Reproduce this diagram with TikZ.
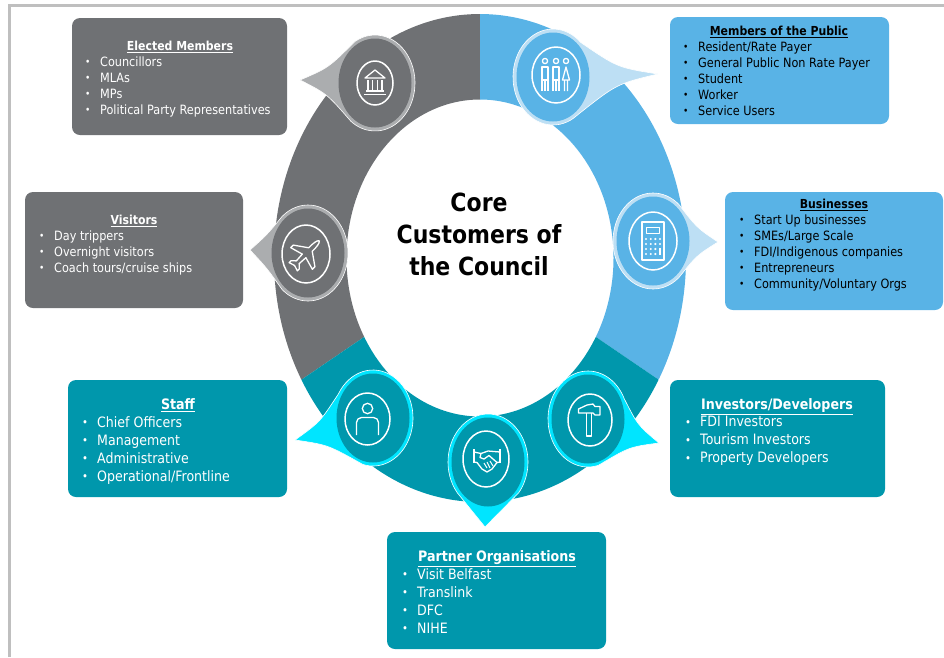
\documentclass[tikz,border=0pt]{standalone}
\usepackage{fontspec}
\setmainfont[FakeStretch=0.88]{DejaVu Sans}
\usetikzlibrary{positioning,calc}

\definecolor{custgrey}{HTML}{6F7174}
\definecolor{custblue}{HTML}{59B3E6}
\definecolor{custteal}{HTML}{0097AC}
\definecolor{tailgrey}{HTML}{ABADAF}
\definecolor{tailblue}{HTML}{BDDFF4}
\definecolor{tailteal}{HTML}{00E5FF}

% pin: centre x, y, tip x, y, join angles, tail colour, body colour, bend
\newcommand{\custpin}[9]{
  \path (#1,#2) coordinate (pc) (#3,#4) coordinate (pt) ($(pc)!0.6!(pt)$) coordinate (pa)
    ($(pc)+(#5:40 and 48)$) coordinate (pj) ($(pc)+(#6:40 and 48)$) coordinate (pk);
  \fill[#7, draw=white, line width=0.6pt]
    (pj) .. controls ($($(pj)!0.5!(pt)$)!#9!(pa)$) .. (pt)
    .. controls ($($(pk)!0.5!(pt)$)!#9!(pa)$) .. (pk)
    arc[start angle=#6, delta angle={360-(#6-#5)}, x radius=40, y radius=48] -- cycle;
  \fill[#8] (pc) ellipse[x radius=36.5, y radius=44.5];
}
\newcommand{\itm}[1]{\makebox[15pt][l]{\raisebox{0.5pt}{\scalebox{0.8}{\textbullet}}}#1}

\begin{document}
\begin{tikzpicture}[x=1pt,y=-1pt,
  basebox/.style={rounded corners=8pt, text=white},
  greybox/.style={basebox, fill=custgrey},
  bluebox/.style={basebox, fill=custblue},
  tealbox/.style={basebox, fill=custteal},
  boxtitle/.style={text=white, inner sep=0pt, font=\fontsize{12.4}{16}\selectfont\bfseries},
  bigtitle/.style={text=white, inner sep=0pt, font=\fontsize{14.4}{18}\selectfont\bfseries},
  itemlist/.style={text=white, inner sep=0pt, anchor=north west, align=left, font=\fontsize{12.8}{16}\selectfont},
  biglist/.style={itemlist, font=\fontsize{14.3}{18}\selectfont},
  iconring/.style={draw=white, line width=1.5pt},
  icon/.style={draw=white, line width=1.3pt, line join=round}
]
  \useasboundingbox (0,0) rectangle (944,657);

  % page frame
  \draw[line width=3pt, color=black!25] (9,657) -- (9,5) -- (944,5);

  % ring
  \begin{scope}
    \clip (480,258) -- (480,0) -- (0,0) -- (0,500) -- (240,421.5) -- cycle;
    \fill[custgrey, even odd rule] (480,258) ellipse[x radius=206, y radius=244]
      (480,258) ellipse[x radius=133.5, y radius=158.5];
  \end{scope}
  \begin{scope}
    \clip (480,258) -- (480,0) -- (944,0) -- (944,500) -- (720,421.5) -- cycle;
    \fill[custblue, even odd rule] (480,258) ellipse[x radius=206, y radius=244]
      (480,258) ellipse[x radius=133.5, y radius=158.5];
  \end{scope}
  \begin{scope}
    \clip (480,258) -- (240,421.5) -- (240,657) -- (720,657) -- (720,421.5) -- cycle;
    \fill[custteal, even odd rule] (480,258) ellipse[x radius=206, y radius=244]
      (480,258) ellipse[x radius=133.5, y radius=158.5];
  \end{scope}

  \node (core) [align=center, font=\fontsize{25}{32}\selectfont\bfseries] at (479,234)
    {Core\\Customers of\\the Council};

  % pins
  \custpin{375}{83}{300}{80}{127}{240}{tailgrey}{custgrey}{0.35}
  \custpin{553}{77}{658}{74}{-46}{52}{tailblue}{custblue}{0.55}
  \custpin{653}{241}{718}{242}{-50}{50}{tailblue}{custblue}{0.25}
  \custpin{308}{253}{250}{250}{130}{230}{tailgrey}{custgrey}{0.1}
  \custpin{373}{418}{295}{440}{105}{210}{tailteal}{custteal}{0.35}
  \custpin{488}{462}{485}{527}{40}{140}{tailteal}{custteal}{0.05}
  \custpin{588}{419}{659}{443}{-25}{75}{tailteal}{custteal}{0.35}

  % bank
  \begin{scope}[shift={(375,83)}]
    \draw[iconring] (0,0) ellipse[x radius=18, y radius=22];
    \draw[icon] (-10,-5) -- (0,-13) -- (10,-5) -- cycle;
    \foreach \cx in {-7,-2.4,2.4,7} \draw[icon] (\cx,-3) -- (\cx,7);
    \draw[icon] (-9,8) -- (9,8) (-11,11.5) -- (11,11.5);
  \end{scope}

  % people
  \begin{scope}[shift={(556,75)}]
    \draw[iconring] (0,0) ellipse[x radius=24, y radius=28];
    \foreach \cx in {-11,0,10} \draw[icon] (\cx,-14) circle[radius=2.6];
    \foreach \cx in {-11,0} \draw[icon] (\cx-3,16) -- (\cx-3,-8) -- (\cx+3,-8) -- (\cx+3,16)
       (\cx,16) -- (\cx,5) (\cx-3,5) -- (\cx+3,5);
    \draw[icon] (6.5,5) -- (10,-8) -- (13.5,5) -- cycle (8.5,5) -- (8.5,16) (11.5,5) -- (11.5,16);
  \end{scope}

  % calculator
  \begin{scope}[shift={(653,241)}]
    \draw[iconring] (0,0) ellipse[x radius=24, y radius=29];
    \draw[icon] (-11,-19) rectangle (11,19);
    \draw[icon, line width=1pt] (-6.5,-14) rectangle (6.5,-8);
    \foreach \cy in {-2,3,8,13} \foreach \cx in {-7,-2.3,2.3}
      \fill[white] (\cx,\cy) circle[radius=1.2];
    \foreach \cy in {-2,3} \fill[white] (7,\cy) circle[radius=1.2];
    \draw[icon, line width=2pt] (7,7) -- (7,14);
  \end{scope}

  % plane
  \begin{scope}[shift={(306,254)}, rotate=-45]
    \draw[iconring, rotate=45] (0,0) ellipse[x radius=24, y radius=29];
    \draw[icon, scale=0.9] (0,-21) .. controls (2.5,-19) and (2.8,-14) .. (2.8,-7) -- (17,3) -- (17,7) -- (2.8,3)
      -- (2.2,13) -- (6.5,17) -- (6.5,20) -- (0,18) -- (-6.5,20) -- (-6.5,17) -- (-2.2,13)
      -- (-2.8,3) -- (-17,7) -- (-17,3) -- (-2.8,-7) .. controls (-2.8,-14) and (-2.5,-19) .. (0,-21);
  \end{scope}

  % person
  \begin{scope}[shift={(367.5,419)}]
    \draw[iconring] (0,0) ellipse[x radius=22.5, y radius=26];
    \draw[icon] (0,-10.5) circle[radius=5.2];
    \draw[icon, rounded corners=5pt] (-11,16) -- (-11,-1.5) -- (11,-1.5) -- (11,16);
  \end{scope}

  % handshake
  \begin{scope}[shift={(486,459)}]
    \draw[iconring] (0,0) ellipse[x radius=23, y radius=28];
    \draw[icon] (-12,-10) -- (-12,4) (14,-10) -- (14,4);
    \draw[icon] (-12,-7) -- (-5,-5.5) -- (2,-8) -- (14,-7);
    \draw[icon] (-5,-5.5) -- (-6,-1.5) -- (-2,0) -- (3,-3.5) -- (11,3.5) -- (14,3);
    \draw[icon] (-12,3) -- (-9,3.5) -- (-4,10) -- (1,13) -- (6,10) -- (11,3.5);
    \draw[icon, line width=1pt] (-2,4) -- (1,9) (1,3) -- (4,9) (4,2) -- (7,7);
  \end{scope}

  % hammer
  \begin{scope}[shift={(590,420)}]
    \draw[iconring] (0,0) ellipse[x radius=22, y radius=26];
    \draw[icon] (-11.5,-7) -- (-11.5,-11) -- (-3,-15) -- (3,-16) -- (5,-13.5) -- (10,-13.5) -- (10,-5)
      -- (5,-5) -- (3,-7) -- cycle;
    \draw[icon] (-3.3,-7) -- (-3.3,16) -- (1.7,16) -- (1.7,-7);
  \end{scope}

  % boxes
  \node (elected) [greybox, minimum width=215pt, minimum height=117pt] at (179.5,76.5) {};
  \node (electedt) [boxtitle] at (180,47) {\underline{Elected Members}};
  \node (electedl) [itemlist] at (85,56.5) {\itm{Councillors}\\\itm{MLAs}\\\itm{MPs}\\\itm{Political Party Representatives}};

  \node (visitors) [greybox, minimum width=218pt, minimum height=116pt] at (134,250) {};
  \node (visitorst) [boxtitle] at (134,221) {\underline{Visitors}};
  \node (visitorsl) [itemlist] at (39,230.5) {\itm{Day trippers}\\\itm{Overnight visitors}\\\itm{Coach tours/cruise ships}};

  \node (public) [bluebox, minimum width=219pt, minimum height=107pt] at (779.5,70.5) {};
  \node (publict) [boxtitle, text=black] at (779,32) {\underline{Members of the Public}};
  \node (publicl) [itemlist, text=black] at (683,41.5) {\itm{Resident/Rate Payer}\\\itm{General Public Non Rate Payer}\\\itm{Student}\\\itm{Worker}\\\itm{Service Users}};

  \node (business) [bluebox, minimum width=218pt, minimum height=118pt] at (834,251) {};
  \node (businesst) [boxtitle, text=black] at (834,205) {\underline{Businesses}};
  \node (businessl) [itemlist, text=black] at (739,214.5) {\itm{Start Up businesses}\\\itm{SMEs/Large Scale}\\\itm{FDI/Indigenous companies}\\\itm{Entrepreneurs}\\\itm{Community/Voluntary Orgs}};

  \node (staff) [tealbox, minimum width=219pt, minimum height=117pt] at (177.5,438.5) {};
  \node (stafft) [bigtitle] at (178,405) {\underline{Staff}};
  \node (staffl) [biglist] at (82,416) {\itm{Chief Officers}\\\itm{Management}\\\itm{Administrative}\\\itm{Operational/Frontline}};

  \node (investors) [tealbox, minimum width=215pt, minimum height=117pt] at (777.5,438.5) {};
  \node (investorst) [bigtitle] at (777,406.5) {\underline{Investors/Developers}};
  \node (investorsl) [biglist] at (685,416) {\itm{FDI Investors}\\\itm{Tourism Investors}\\\itm{Property Developers}};

  \node (partner) [tealbox, minimum width=219pt, minimum height=117pt] at (496.5,590.5) {};
  \node (partnert) [bigtitle] at (497,558.5) {\underline{Partner Organisations}};
  \node (partnerl) [biglist] at (402,568) {\itm{Visit Belfast}\\\itm{Translink}\\\itm{DFC}\\\itm{NIHE}};
\end{tikzpicture}
\end{document}
